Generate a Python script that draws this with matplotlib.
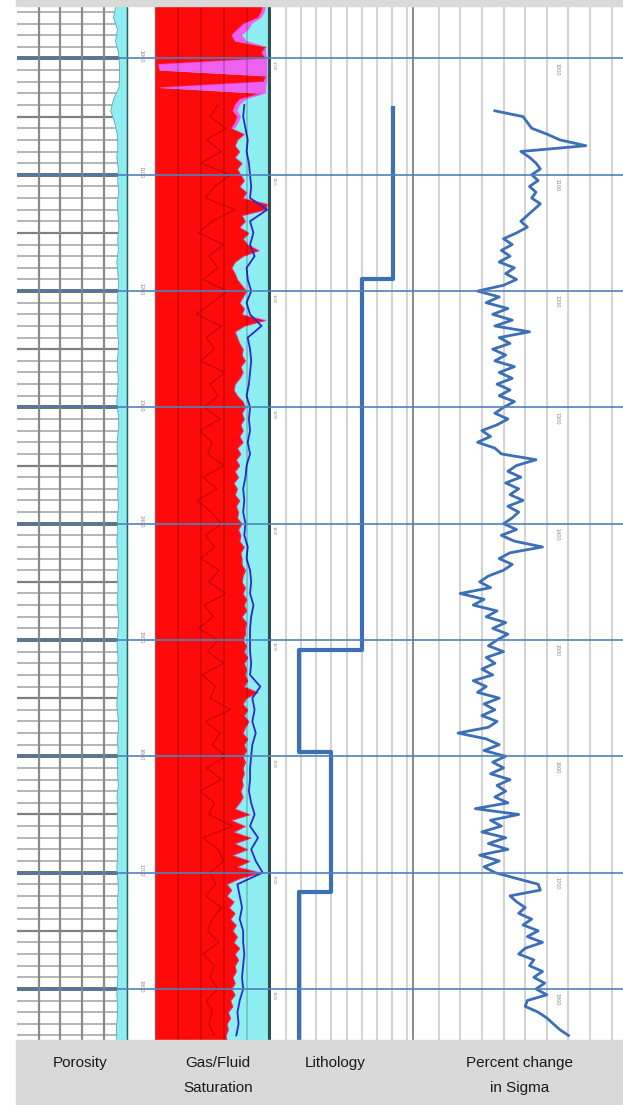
import numpy as np
import matplotlib
matplotlib.use("Agg")
import matplotlib.pyplot as plt
from matplotlib.patches import Rectangle

plt.rcParams["font.family"] = ["Liberation Sans", "DejaVu Sans"]

W, H = 623, 1105
TOP, BASE = 954.9, 1843.9
MAJOR = np.arange(1000, 1801, 100)

# porosity (v/v), every 10 ft from 955 ft
por = [0.045, 0.055, 0.037, 0.046, 0.032, 0.028, 0.027, 0.030, 0.055, 0.068,
       0.050, 0.038, 0.035, 0.040, 0.033, 0.036, 0.031, 0.038, 0.034, 0.030,
       0.036, 0.033, 0.040, 0.035, 0.031, 0.037, 0.034, 0.039, 0.036, 0.032,
       0.035, 0.038, 0.033, 0.036, 0.040, 0.034, 0.031, 0.036, 0.039, 0.035,
       0.037, 0.033, 0.036, 0.032, 0.038, 0.035, 0.040, 0.036, 0.033, 0.037,
       0.034, 0.038, 0.035, 0.031, 0.036, 0.039, 0.034, 0.037, 0.033, 0.036,
       0.040, 0.035, 0.032, 0.037, 0.034, 0.038, 0.036, 0.033, 0.039, 0.035,
       0.037, 0.034, 0.038, 0.036, 0.040, 0.035, 0.033, 0.037, 0.034, 0.036,
       0.039, 0.035, 0.038, 0.034, 0.037, 0.040, 0.036, 0.038, 0.042, 0.040]
por_depth = 955 + 10 * np.arange(len(por))

# fluid saturation edge (fraction of track), every 5 ft from 955 ft
sat_red = [0.94, 0.93, 0.90, 0.78, 0.72, 0.67, 0.70, 0.97, 0.93, 0.97,
           0.03, 0.04, 0.97, 0.95, 0.04, 0.93, 0.74, 0.70, 0.68, 0.72,
           0.70, 0.67, 0.78, 0.72, 0.70, 0.74, 0.70, 0.76, 0.72, 0.75,
           0.78, 0.74, 0.80, 0.77, 0.98, 0.97, 0.76, 0.79, 0.74, 0.82,
           0.77, 0.81, 0.91, 0.77, 0.70, 0.67, 0.70, 0.72, 0.76, 0.80,
           0.77, 0.74, 0.78, 0.76, 0.97, 0.78, 0.70, 0.72, 0.74, 0.77,
           0.76, 0.79, 0.75, 0.77, 0.74, 0.70, 0.69, 0.72, 0.77, 0.79,
           0.76, 0.78, 0.75, 0.77, 0.74, 0.77, 0.72, 0.75, 0.71, 0.74,
           0.70, 0.73, 0.69, 0.72, 0.70, 0.74, 0.71, 0.73, 0.72, 0.76,
           0.73, 0.75, 0.74, 0.78, 0.75, 0.76, 0.76, 0.79, 0.77, 0.76,
           0.79, 0.77, 0.80, 0.78, 0.80, 0.76, 0.80, 0.79, 0.79, 0.77,
           0.80, 0.78, 0.81, 0.78, 0.80, 0.79, 0.81, 0.78, 0.90, 0.80,
           0.77, 0.81, 0.78, 0.82, 0.79, 0.77, 0.81, 0.78, 0.80, 0.77,
           0.79, 0.77, 0.78, 0.76, 0.77, 0.75, 0.77, 0.74, 0.70, 0.83,
           0.67, 0.79, 0.69, 0.84, 0.70, 0.81, 0.68, 0.83, 0.72, 0.93,
           0.74, 0.63, 0.67, 0.63, 0.69, 0.65, 0.70, 0.66, 0.71, 0.68,
           0.72, 0.69, 0.74, 0.70, 0.73, 0.70, 0.71, 0.68, 0.70, 0.67,
           0.70, 0.66, 0.68, 0.64, 0.66, 0.63, 0.64, 0.62, 0.63]
sat_depth = 955 + 5 * np.arange(len(sat_red))

# gas (magenta) extent near the top, every 5 ft from 955 ft
sat_gas = [0.97, 0.96, 0.93, 0.85, 0.82, 0.76, 0.80, 0.97, 0.97, 0.98,
           0.98, 0.98, 0.98, 0.98, 0.97, 0.97, 0.80, 0.74, 0.72, 0.75,
           0.73, 0.70]
gas_depth = 955 + 5 * np.arange(len(sat_gas))

# blue saturation curve, every 10 ft from 1040 ft
sat_blue = [0.78, 0.77, 0.79, 0.81, 0.80, 0.82, 0.83, 0.84, 0.83, 0.98,
            0.83, 0.86, 0.83, 0.87, 0.80, 0.81, 0.84, 0.80, 0.83, 0.93,
            0.81, 0.83, 0.84, 0.83, 0.82, 0.80, 0.83, 0.82, 0.83, 0.81,
            0.83, 0.80, 0.79, 0.77, 0.78, 0.77, 0.79, 0.78, 0.81, 0.80,
            0.83, 0.84, 0.83, 0.86, 0.84, 0.83, 0.83, 0.83, 0.84, 0.83,
            0.92, 0.85, 0.87, 0.85, 0.88, 0.85, 0.84, 0.83, 0.83, 0.82,
            0.84, 0.87, 0.83, 0.90, 0.84, 0.88, 0.94, 0.72, 0.74, 0.76,
            0.74, 0.77, 0.77, 0.78, 0.77, 0.76, 0.77, 0.74, 0.72, 0.73,
            0.71]
blue_depth = 1040 + 10 * np.arange(len(sat_blue))

# dark red trace inside the red fill, every 10 ft from 1040 ft
sat_dark = [0.55, 0.48, 0.62, 0.45, 0.58, 0.40, 0.66, 0.52, 0.44, 0.70,
            0.50, 0.38, 0.60, 0.47, 0.55, 0.42, 0.63, 0.50, 0.36, 0.58,
            0.45, 0.52, 0.40, 0.61, 0.48, 0.55, 0.43, 0.57, 0.39, 0.50,
            0.46, 0.60, 0.42, 0.54, 0.37, 0.49, 0.58, 0.44, 0.52, 0.40,
            0.56, 0.47, 0.62, 0.43, 0.51, 0.38, 0.55, 0.46, 0.60, 0.41,
            0.53, 0.48, 0.66, 0.44, 0.57, 0.50, 0.62, 0.45, 0.58, 0.39,
            0.52, 0.47, 0.68, 0.42, 0.55, 0.60, 0.48, 0.53, 0.44, 0.58,
            0.50, 0.46, 0.56, 0.42, 0.52, 0.48, 0.55, 0.45, 0.50, 0.47,
            0.52]
dark_depth = 1040 + 10 * np.arange(len(sat_dark))

# lithology steps (top depth, value)
litho_depth = [1043, 1190, 1509, 1596, 1717, 1845]
litho_val = [8.05, 6.0, 1.85, 3.95, 1.85, 1.85]

# percent change in sigma, every 5 ft from 1045 ft
sigma = [-14, -1, 1, 3, 10, 16, 28, -2, 2, 5,
         7, 3, 6, 2, 5, 3, 7, 4, 1, -2,
         1, -4, -10, -6, -11, -7, -12, -5, -9, -4,
         -10, -22, -12, -18, -8, -15, -6, -14, 2, -12,
         -7, -15, -9, -14, -5, -12, -6, -13, -7, -12,
         -5, -10, -14, -8, -13, -20, -16, -22, -14, -11,
         5, -4, -8, -2, -9, -3, -7, -1, -8, -3,
         -6, -10, -4, -11, -5, 8, -7, -12, -6, -10,
         -17, -21, -16, -30, -19, -24, -13, -18, -9, -15,
         -8, -13, -17, -10, -18, -14, -20, -15, -24, -18,
         -22, -12, -19, -14, -20, -13, -17, -31, -18, -12,
         -19, -9, -15, -10, -16, -7, -13, -9, -14, -8,
         -23, -3, -16, -11, -20, -9, -17, -8, -21, -12,
         -19, -14, -4, 6, 7, -7, -4, 0, -3, 3,
         -1, 6, 1, 8, 0, -3, 4, 2, 8, 4,
         9, 5, 10, 1, 0, 6, 10, 13, 16, 20]
sigma_depth = 1045 + 5 * np.arange(len(sigma))

labels = [("Porosity", ""), ("Gas/Fluid", "Saturation"), ("Lithology", ""),
          ("Percent change", "in Sigma")]
label_x = [80, 218, 335, 520]

RED = "#ff0a0a"
CYAN = "#8eeef2"
MAGENTA = "#f060f0"
LOGBLUE = "#3b6fb6"
LINEBLUE = "#4f81bd"

fig = plt.figure(figsize=(W / 100, H / 100), dpi=100)


def track(x0, x1, xlim):
    ax = fig.add_axes([x0 / W, 1 - 1040 / H, (x1 - x0) / W, 1034 / H])
    ax.set_xlim(*xlim)
    ax.set_ylim(BASE, TOP)
    ax.tick_params(length=0, labelleft=False, labelbottom=False)
    for s in ax.spines.values():
        s.set_visible(False)
    return ax


# --- porosity
ax = track(17, 125.5, (0.5, 0.0))
for d in np.arange(960, 1845, 10):
    if d % 100 == 0:
        ax.axhline(d, color="#505050", lw=2.6, zorder=1)
    elif d % 50 == 0:
        ax.axhline(d, color="#808080", lw=1.6, zorder=1)
    else:
        ax.axhline(d, color="#a8a8a8", lw=1.2, zorder=1)
for v in [0.1, 0.2, 0.3, 0.4]:
    ax.axvline(v, color="#8a8a8a", lw=1.6, zorder=1)
ax.fill_betweenx(por_depth, por, 0, color=CYAN, zorder=3)
ax.plot(por, por_depth, color="#6aa8a8", lw=0.6, zorder=4)
ax.spines["right"].set_visible(True)
ax.spines["right"].set_color("#2e5e5e")
ax.spines["right"].set_linewidth(2.5)

# --- gas / fluid saturation
ax = track(155, 269.5, (0, 1))
ax.set_facecolor(CYAN)
ax.fill_betweenx(sat_depth, 0, sat_red, color=RED, lw=0)
a_top = np.array(sat_red[:len(sat_gas)])
g = np.array(sat_gas)
ax.fill_betweenx(gas_depth, a_top, g, where=g > a_top, color=MAGENTA,
                 interpolate=True, lw=0)
ax.plot(sat_red, sat_depth, color="#e040e0", lw=0.7, alpha=0.5)
ax.plot(sat_dark, dark_depth, color="#8b0000", lw=0.8, alpha=0.5)
ax.plot(sat_blue, blue_depth, color="#2a2ad0", lw=1.3)
ax.set_xticks([0.2, 0.4, 0.6, 0.8])
ax.set_axisbelow(False)
ax.grid(axis="x", color="k", alpha=0.2, lw=1.2)
ax.spines["left"].set_visible(True)
ax.spines["left"].set_color("#a05050")
ax.spines["left"].set_linewidth(1)
ax.spines["right"].set_visible(True)
ax.spines["right"].set_color("#2f4f4f")
ax.spines["right"].set_linewidth(3)

# --- lithology
ax = track(271, 413, (0, 9.4))
ax.set_xticks(np.arange(1, 10))
ax.grid(axis="x", color="#d4d4d4", lw=1.5)
ax.plot(litho_val, litho_depth, color=LOGBLUE, lw=3.0,
        drawstyle="steps-pre", zorder=3)
ax.spines["right"].set_visible(True)
ax.spines["right"].set_color("#8c8c8c")
ax.spines["right"].set_linewidth(1.5)

# --- percent change in sigma
ax = track(413.5, 623, (-51.6, 45.2))
ax.set_xticks(np.arange(-40, 41, 10))
ax.grid(axis="x", color="#d4d4d4", lw=1.5)
ax.plot(sigma, sigma_depth, color=LOGBLUE, lw=2.0, zorder=3)

# --- overlay: depth lines and depth marks
ov = fig.add_axes([17 / W, 1 - 1040 / H, 606 / W, 1034 / H], zorder=10)
ov.set_facecolor("none")
ov.set_ylim(BASE, TOP)
ov.axis("off")
tr = ov.get_yaxis_transform()
for d in MAJOR:
    ov.axhline(d, color=LINEBLUE, lw=1.2)
    ov.text(0.2046, d - 2, str(d), transform=tr, rotation=-90, fontsize=4,
            color="#8a8a8a", ha="center", va="center")
    ov.text(0.424, d + 6, str(d), transform=tr, rotation=-90, fontsize=3,
            color="#8a8a8a", ha="center", va="center")
    ov.text(0.891, d + 9, str(d), transform=tr, rotation=-90, fontsize=4,
            color="#8a8a8a", ha="center", va="center")

# --- grey bands and track titles
fig.patches.append(Rectangle((16 / W, 1 - 6 / H), (W - 16) / W, 6 / H,
                             transform=fig.transFigure, color="#d9d9d9"))
fig.patches.append(Rectangle((16 / W, 0), (W - 16) / W, 65 / H,
                             transform=fig.transFigure, color="#d9d9d9"))
for (l1, l2), x in zip(labels, label_x):
    fig.text(x / W, 1 - 1063 / H, l1, ha="center", va="center",
             fontsize=11, color="#1a1a1a")
    if l2:
        fig.text(x / W, 1 - 1088 / H, l2, ha="center", va="center",
                 fontsize=11, color="#1a1a1a")

fig.savefig("out.png", dpi=100)
